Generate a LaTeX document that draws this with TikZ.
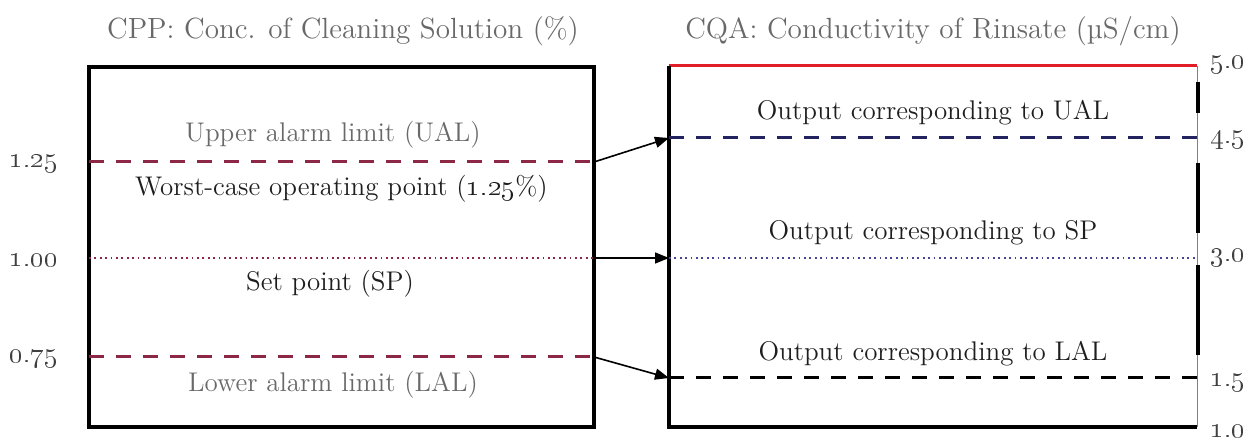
\documentclass[tikz,border=0pt]{standalone}
\usetikzlibrary{arrows.meta}
\definecolor{maroon}{RGB}{140,40,70}
\definecolor{navyd}{RGB}{35,35,95}
\definecolor{navyp}{RGB}{70,70,150}
\definecolor{topred}{RGB}{225,30,40}
\definecolor{txtgray}{RGB}{105,105,105}
\definecolor{txtdark}{RGB}{30,30,30}
\begin{document}
\begin{tikzpicture}[x=0.5pt,y=-0.5pt,
  lbl/.style={font=\fontsize{13.5}{16}\selectfont, inner sep=0pt},
  ttl/.style={lbl, font=\fontsize{14.6}{17}\selectfont, text=txtgray},
  graylbl/.style={lbl, text=txtgray},
  darklbl/.style={lbl, text=txtdark},
  numlbl/.style={lbl, font=\fontsize{14}{16}\selectfont, text=txtdark!85},
  boxline/.style={line width=1.75pt},
  dashln/.style={line width=1.5pt, dash pattern=on 7.5pt off 6pt},
  dotln/.style={line width=1.2pt, dash pattern=on 0.9pt off 1.8pt},
  conn/.style={line width=0.8pt, -{Triangle[length=7pt,width=5.5pt]}}
]
\useasboundingbox (0,0) rectangle (1260,442);
% boxes
\node[boxline, draw, minimum width=252.5pt, minimum height=180pt, inner sep=0pt] (lbox) at (341.5,247) {};
\node[minimum width=264pt, minimum height=180.5pt, inner sep=0pt] (rbox) at (933,246.5) {};
\draw[boxline, topred] (rbox.north west) -- (rbox.north east);
\draw[boxline, line width=1.9pt] (rbox.north west) -- (rbox.south west) -- (rbox.south east);
\draw[line width=0.6pt, gray] (rbox.north east) -- (rbox.south east);
\draw[line width=1.6pt, black] (1198,82) -- (1198,113) (1198,163) -- (1198,233) (1198,265) -- (1198,355);
% titles
\node[ttl] (cpp) at (343,31) {CPP: Conc. of Cleaning Solution (\%)};
\node[ttl] (cqa) at (933,31) {CQA: Conductivity of Rinsate (µS/cm)};
% left lines
\coordinate (lual-w) at (89,162); \coordinate (lual-e) at (594,162);
\coordinate (lsp-w) at (89,258); \coordinate (lsp-e) at (594,258);
\coordinate (llal-w) at (89,357); \coordinate (llal-e) at (594,357);
\draw[dashln, maroon] (lual-w) -- (lual-e);
\draw[dotln, maroon] (lsp-w) -- (lsp-e);
\draw[dashln, maroon] (llal-w) -- (llal-e);
% right lines
\coordinate (rual-w) at (669,138); \coordinate (rual-e) at (1197,138);
\coordinate (rsp-w) at (669,258); \coordinate (rsp-e) at (1197,258);
\coordinate (rlal-w) at (669,378); \coordinate (rlal-e) at (1197,378);
\draw[dashln, navyd] (rual-w) -- (rual-e);
\draw[dotln, navyp] (rsp-w) -- (rsp-e);
\draw[dashln, black] (rlal-w) -- (rlal-e);
% left texts
\node[graylbl] (ual) at (333,135) {Upper alarm limit (UAL)};
\node[darklbl] (wc) at (341.5,189) {Worst-case operating point (\oldstylenums{1.25}\%)};
\node[darklbl] (sp) at (330,284) {Set point (SP)};
\node[graylbl] (lal) at (333,385) {Lower alarm limit (LAL)};
% right texts
\node[darklbl] (oual) at (933,113) {Output corresponding to UAL};
\node[darklbl] (osp) at (933,233) {Output corresponding to SP};
\node[darklbl] (olal) at (933,354) {Output corresponding to LAL};
% left numbers
\node[numlbl] (n125) at (34,164) {\oldstylenums{1.25}};
\node[numlbl] (n100) at (34,260) {\oldstylenums{1.00}};
\node[numlbl] (n075) at (34,359) {\oldstylenums{0.75}};
% right numbers
\node[numlbl] (n50) at (1228,65) {\oldstylenums{5.0}};
\node[numlbl] (n45) at (1228,140) {\oldstylenums{4.5}};
\node[numlbl] (n30) at (1228,258) {\oldstylenums{3.0}};
\node[numlbl] (n15) at (1228,383) {\oldstylenums{1.5}};
\node[numlbl] (n10) at (1228,431) {\oldstylenums{1.0}};
% connectors
\draw[conn] (lual-e) -- (rual-w);
\draw[conn] (lsp-e) -- (rsp-w);
\draw[conn] (llal-e) -- (rlal-w);
\end{tikzpicture}
\end{document}
